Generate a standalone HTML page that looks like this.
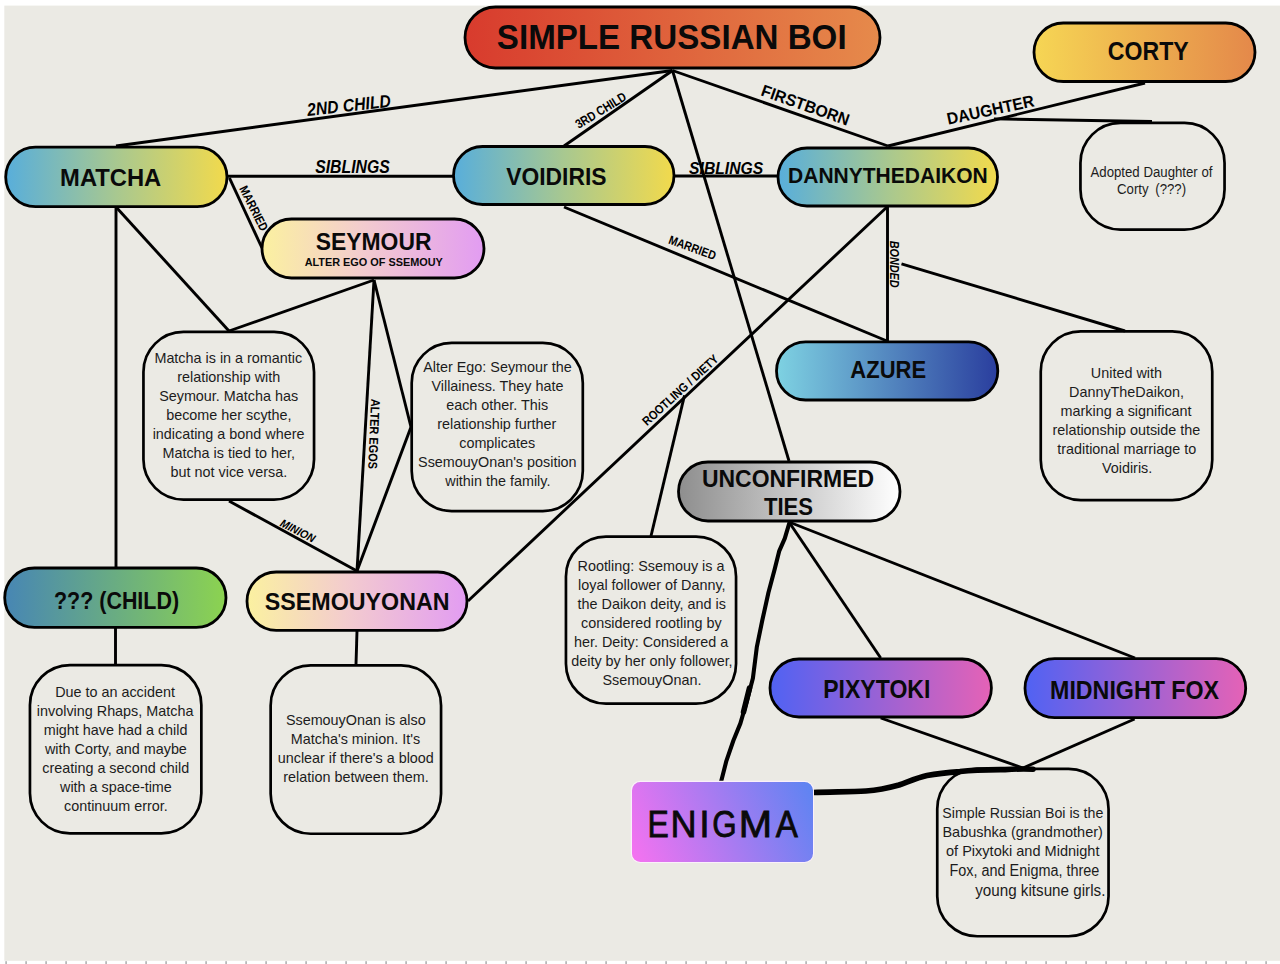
<!DOCTYPE html>
<html><head><meta charset="utf-8"><style>
html,body{margin:0;padding:0;background:#fff;width:1280px;height:964px;overflow:hidden}
svg{display:block}
text{font-family:"Liberation Sans",sans-serif}
</style></head><body>
<svg width="1280" height="964" viewBox="0 0 1280 964">
<defs><linearGradient id="gTitle" x1="0" y1="0" x2="1" y2="0"><stop offset="0" stop-color="#D83B2D"/><stop offset="1" stop-color="#E68A4B"/></linearGradient><linearGradient id="gBY" x1="0" y1="0" x2="1" y2="0"><stop offset="0" stop-color="#58AEDB"/><stop offset="0.5" stop-color="#A8C890"/><stop offset="1" stop-color="#F2DA4C"/></linearGradient><linearGradient id="gCorty" x1="0" y1="0" x2="1" y2="0"><stop offset="0" stop-color="#F6D654"/><stop offset="1" stop-color="#E4884A"/></linearGradient><linearGradient id="gPink" x1="0" y1="0" x2="1" y2="0"><stop offset="0" stop-color="#FBF1A0"/><stop offset="0.45" stop-color="#F3CCCE"/><stop offset="1" stop-color="#E29CF2"/></linearGradient><linearGradient id="gAzure" x1="0" y1="0" x2="1" y2="0"><stop offset="0" stop-color="#7ED2E2"/><stop offset="1" stop-color="#2A3E9E"/></linearGradient><linearGradient id="gGrey" x1="0" y1="0" x2="1" y2="0"><stop offset="0" stop-color="#8E8E8E"/><stop offset="1" stop-color="#FFFFFF"/></linearGradient><linearGradient id="gChild" x1="0" y1="0" x2="1" y2="0"><stop offset="0" stop-color="#4786B4"/><stop offset="1" stop-color="#8CD350"/></linearGradient><linearGradient id="gPurp" x1="0" y1="0" x2="1" y2="0"><stop offset="0" stop-color="#5062F3"/><stop offset="1" stop-color="#E562B6"/></linearGradient><linearGradient id="gEnigma" x1="632" y1="862" x2="813" y2="782" gradientUnits="userSpaceOnUse"><stop offset="0" stop-color="#F672F0"/><stop offset="1" stop-color="#5C84F2"/></linearGradient></defs>
<rect x="4.3" y="5.6" width="1276" height="955.2" fill="#EBEAE4"/>
<rect x="5.3" y="961.2" width="1.6" height="2.8" fill="#AEB2B2"/>
<rect x="25.3" y="961.2" width="1.6" height="2.8" fill="#AEB2B2"/>
<rect x="45.3" y="961.2" width="1.6" height="2.8" fill="#AEB2B2"/>
<rect x="65.3" y="961.2" width="1.6" height="2.8" fill="#AEB2B2"/>
<rect x="85.3" y="961.2" width="1.6" height="2.8" fill="#AEB2B2"/>
<rect x="105.3" y="961.2" width="1.6" height="2.8" fill="#AEB2B2"/>
<rect x="125.3" y="961.2" width="1.6" height="2.8" fill="#AEB2B2"/>
<rect x="145.3" y="961.2" width="1.6" height="2.8" fill="#AEB2B2"/>
<rect x="165.3" y="961.2" width="1.6" height="2.8" fill="#AEB2B2"/>
<rect x="185.3" y="961.2" width="1.6" height="2.8" fill="#AEB2B2"/>
<rect x="205.3" y="961.2" width="1.6" height="2.8" fill="#AEB2B2"/>
<rect x="225.3" y="961.2" width="1.6" height="2.8" fill="#AEB2B2"/>
<rect x="245.3" y="961.2" width="1.6" height="2.8" fill="#AEB2B2"/>
<rect x="265.3" y="961.2" width="1.6" height="2.8" fill="#AEB2B2"/>
<rect x="285.3" y="961.2" width="1.6" height="2.8" fill="#AEB2B2"/>
<rect x="305.3" y="961.2" width="1.6" height="2.8" fill="#AEB2B2"/>
<rect x="325.3" y="961.2" width="1.6" height="2.8" fill="#AEB2B2"/>
<rect x="345.3" y="961.2" width="1.6" height="2.8" fill="#AEB2B2"/>
<rect x="365.3" y="961.2" width="1.6" height="2.8" fill="#AEB2B2"/>
<rect x="385.3" y="961.2" width="1.6" height="2.8" fill="#AEB2B2"/>
<rect x="405.3" y="961.2" width="1.6" height="2.8" fill="#AEB2B2"/>
<rect x="425.3" y="961.2" width="1.6" height="2.8" fill="#AEB2B2"/>
<rect x="445.3" y="961.2" width="1.6" height="2.8" fill="#AEB2B2"/>
<rect x="465.3" y="961.2" width="1.6" height="2.8" fill="#AEB2B2"/>
<rect x="485.3" y="961.2" width="1.6" height="2.8" fill="#AEB2B2"/>
<rect x="505.3" y="961.2" width="1.6" height="2.8" fill="#AEB2B2"/>
<rect x="525.3" y="961.2" width="1.6" height="2.8" fill="#AEB2B2"/>
<rect x="545.3" y="961.2" width="1.6" height="2.8" fill="#AEB2B2"/>
<rect x="565.3" y="961.2" width="1.6" height="2.8" fill="#AEB2B2"/>
<rect x="585.3" y="961.2" width="1.6" height="2.8" fill="#AEB2B2"/>
<rect x="605.3" y="961.2" width="1.6" height="2.8" fill="#AEB2B2"/>
<rect x="625.3" y="961.2" width="1.6" height="2.8" fill="#AEB2B2"/>
<rect x="645.3" y="961.2" width="1.6" height="2.8" fill="#AEB2B2"/>
<rect x="665.3" y="961.2" width="1.6" height="2.8" fill="#AEB2B2"/>
<rect x="685.3" y="961.2" width="1.6" height="2.8" fill="#AEB2B2"/>
<rect x="705.3" y="961.2" width="1.6" height="2.8" fill="#AEB2B2"/>
<rect x="725.3" y="961.2" width="1.6" height="2.8" fill="#AEB2B2"/>
<rect x="745.3" y="961.2" width="1.6" height="2.8" fill="#AEB2B2"/>
<rect x="765.3" y="961.2" width="1.6" height="2.8" fill="#AEB2B2"/>
<rect x="785.3" y="961.2" width="1.6" height="2.8" fill="#AEB2B2"/>
<rect x="805.3" y="961.2" width="1.6" height="2.8" fill="#AEB2B2"/>
<rect x="825.3" y="961.2" width="1.6" height="2.8" fill="#AEB2B2"/>
<rect x="845.3" y="961.2" width="1.6" height="2.8" fill="#AEB2B2"/>
<rect x="865.3" y="961.2" width="1.6" height="2.8" fill="#AEB2B2"/>
<rect x="885.3" y="961.2" width="1.6" height="2.8" fill="#AEB2B2"/>
<rect x="905.3" y="961.2" width="1.6" height="2.8" fill="#AEB2B2"/>
<rect x="925.3" y="961.2" width="1.6" height="2.8" fill="#AEB2B2"/>
<rect x="945.3" y="961.2" width="1.6" height="2.8" fill="#AEB2B2"/>
<rect x="965.3" y="961.2" width="1.6" height="2.8" fill="#AEB2B2"/>
<rect x="985.3" y="961.2" width="1.6" height="2.8" fill="#AEB2B2"/>
<rect x="1005.3" y="961.2" width="1.6" height="2.8" fill="#AEB2B2"/>
<rect x="1025.3" y="961.2" width="1.6" height="2.8" fill="#AEB2B2"/>
<rect x="1045.3" y="961.2" width="1.6" height="2.8" fill="#AEB2B2"/>
<rect x="1065.3" y="961.2" width="1.6" height="2.8" fill="#AEB2B2"/>
<rect x="1085.3" y="961.2" width="1.6" height="2.8" fill="#AEB2B2"/>
<rect x="1105.3" y="961.2" width="1.6" height="2.8" fill="#AEB2B2"/>
<rect x="1125.3" y="961.2" width="1.6" height="2.8" fill="#AEB2B2"/>
<rect x="1145.3" y="961.2" width="1.6" height="2.8" fill="#AEB2B2"/>
<rect x="1165.3" y="961.2" width="1.6" height="2.8" fill="#AEB2B2"/>
<rect x="1185.3" y="961.2" width="1.6" height="2.8" fill="#AEB2B2"/>
<rect x="1205.3" y="961.2" width="1.6" height="2.8" fill="#AEB2B2"/>
<rect x="1225.3" y="961.2" width="1.6" height="2.8" fill="#AEB2B2"/>
<rect x="1245.3" y="961.2" width="1.6" height="2.8" fill="#AEB2B2"/>
<rect x="1265.3" y="961.2" width="1.6" height="2.8" fill="#AEB2B2"/>
<line x1="672.5" y1="70.5" x2="116" y2="146" stroke="#000" stroke-width="2.9"/>
<line x1="672.5" y1="70.5" x2="564" y2="146" stroke="#000" stroke-width="2.9"/>
<line x1="672.5" y1="70.5" x2="888" y2="146" stroke="#000" stroke-width="2.9"/>
<line x1="672.5" y1="70.5" x2="789" y2="461" stroke="#000" stroke-width="2.9"/>
<line x1="888" y1="146" x2="1145" y2="83" stroke="#000" stroke-width="2.9"/>
<line x1="994" y1="118.9" x2="1152" y2="121.5" stroke="#000" stroke-width="2.9"/>
<line x1="228" y1="176.2" x2="453" y2="176.2" stroke="#000" stroke-width="2.9"/>
<line x1="675" y1="176" x2="777" y2="176" stroke="#000" stroke-width="2.9"/>
<line x1="229.4" y1="177.9" x2="262" y2="248" stroke="#000" stroke-width="2.9"/>
<line x1="116" y1="207" x2="116" y2="567" stroke="#000" stroke-width="2.9"/>
<line x1="116" y1="207" x2="229" y2="331" stroke="#000" stroke-width="2.9"/>
<line x1="374" y1="280" x2="229" y2="331" stroke="#000" stroke-width="2.9"/>
<line x1="374" y1="280" x2="357" y2="571" stroke="#000" stroke-width="2.9"/>
<line x1="374" y1="280" x2="411" y2="427" stroke="#000" stroke-width="2.9"/>
<line x1="411" y1="427" x2="357" y2="571" stroke="#000" stroke-width="2.9"/>
<line x1="229" y1="501" x2="357" y2="571" stroke="#000" stroke-width="2.9"/>
<line x1="357" y1="631" x2="356" y2="664.5" stroke="#000" stroke-width="2.9"/>
<line x1="115.5" y1="628" x2="115.5" y2="664.5" stroke="#000" stroke-width="2.9"/>
<line x1="564" y1="207" x2="887" y2="341" stroke="#000" stroke-width="2.9"/>
<line x1="887.5" y1="207" x2="887.5" y2="341" stroke="#000" stroke-width="2.9"/>
<line x1="887" y1="207" x2="468" y2="601" stroke="#000" stroke-width="2.9"/>
<line x1="901.5" y1="263.8" x2="1125" y2="331" stroke="#000" stroke-width="2.9"/>
<line x1="684.5" y1="395.4" x2="651" y2="536" stroke="#000" stroke-width="2.9"/>
<line x1="789" y1="522" x2="880.7" y2="658" stroke="#000" stroke-width="2.9"/>
<line x1="789" y1="522" x2="1135" y2="658" stroke="#000" stroke-width="2.9"/>
<line x1="880.7" y1="718" x2="1023" y2="768" stroke="#000" stroke-width="2.9"/>
<line x1="1134.6" y1="719" x2="1023" y2="768" stroke="#000" stroke-width="2.9"/>
<path d="M789.4,522.8 L784.8,538.3 L779.3,550.8 L774.6,569.4 L768.4,592.8 L762.2,620.8 L756.8,647.2 L752.9,678.3 L746.7,701.7 L740.4,723.4 L733.4,740.5 L726.4,760.8 L721,782" fill="none" stroke="#000" stroke-width="4.1" stroke-linecap="round" stroke-linejoin="round"/>
<path d="M749.5,688 L743.5,712" fill="none" stroke="#000" stroke-width="5.5" stroke-linecap="round"/>
<path d="M813,792.5 C830,791.8 850,791.8 866,791 C880,790 890,787.5 899,785 C910,781 918,777.5 927,775.5 C940,773 950,772.3 960,771.6 C975,769.5 990,769.5 1005,769.6 C1015,769 1025,768.8 1033,769.2" fill="none" stroke="#000" stroke-width="5.6" stroke-linecap="round" stroke-linejoin="round"/>
<rect x="465.00" y="7.00" width="415.00" height="61.00" rx="30.50" fill="url(#gTitle)" stroke="#000" stroke-width="2.8"/>
<rect x="5.70" y="147.20" width="221.30" height="59.50" rx="29.75" fill="url(#gBY)" stroke="#000" stroke-width="2.8"/>
<rect x="453.50" y="146.50" width="220.50" height="58.00" rx="29.00" fill="url(#gBY)" stroke="#000" stroke-width="2.8"/>
<rect x="778.00" y="148.00" width="219.50" height="58.00" rx="29.00" fill="url(#gBY)" stroke="#000" stroke-width="2.8"/>
<rect x="1034.00" y="23.00" width="221.00" height="58.50" rx="29.25" fill="url(#gCorty)" stroke="#000" stroke-width="2.8"/>
<rect x="262.00" y="219.00" width="222.00" height="59.00" rx="29.50" fill="url(#gPink)" stroke="#000" stroke-width="2.8"/>
<rect x="776.50" y="341.80" width="221.30" height="58.20" rx="29.10" fill="url(#gAzure)" stroke="#000" stroke-width="2.8"/>
<rect x="678.50" y="462.00" width="221.50" height="59.00" rx="29.50" fill="url(#gGrey)" stroke="#000" stroke-width="2.8"/>
<rect x="4.70" y="568.00" width="221.30" height="59.40" rx="29.70" fill="url(#gChild)" stroke="#000" stroke-width="2.8"/>
<rect x="247.00" y="572.00" width="220.00" height="58.40" rx="29.20" fill="url(#gPink)" stroke="#000" stroke-width="2.8"/>
<rect x="770.00" y="659.00" width="221.40" height="58.00" rx="29.00" fill="url(#gPurp)" stroke="#000" stroke-width="2.8"/>
<rect x="1025.00" y="658.60" width="220.70" height="59.10" rx="29.55" fill="url(#gPurp)" stroke="#000" stroke-width="2.8"/>
<text x="496.84" y="48.60" font-size="35.90" font-weight="bold" font-style="normal" textLength="349.77" lengthAdjust="spacingAndGlyphs" fill="#0A0A0A" >SIMPLE RUSSIAN BOI</text>
<text x="60.11" y="185.50" font-size="24.56" font-weight="bold" font-style="normal" textLength="101.12" lengthAdjust="spacingAndGlyphs" fill="#0A0A0A" >MATCHA</text>
<text x="506.24" y="184.80" font-size="24.42" font-weight="bold" font-style="normal" textLength="100.24" lengthAdjust="spacingAndGlyphs" fill="#0A0A0A" >VOIDIRIS</text>
<text x="788.09" y="183.20" font-size="22.53" font-weight="bold" font-style="normal" textLength="199.62" lengthAdjust="spacingAndGlyphs" fill="#0A0A0A" >DANNYTHEDAIKON</text>
<text x="1107.80" y="60.00" font-size="25.00" font-weight="bold" font-style="normal" textLength="80.87" lengthAdjust="spacingAndGlyphs" fill="#0A0A0A" >CORTY</text>
<text x="315.74" y="250.20" font-size="24.71" font-weight="bold" font-style="normal" textLength="115.75" lengthAdjust="spacingAndGlyphs" fill="#0A0A0A" >SEYMOUR</text>
<text x="304.63" y="266.00" font-size="11.05" font-weight="bold" font-style="normal" textLength="138.24" lengthAdjust="spacingAndGlyphs" fill="#0A0A0A" >ALTER EGO OF SSEMOUY</text>
<text x="850.35" y="377.70" font-size="24.42" font-weight="bold" font-style="normal" textLength="75.71" lengthAdjust="spacingAndGlyphs" fill="#0A0A0A" >AZURE</text>
<text x="701.92" y="486.90" font-size="23.84" font-weight="bold" font-style="normal" textLength="172.15" lengthAdjust="spacingAndGlyphs" fill="#0A0A0A" >UNCONFIRMED</text>
<text x="763.96" y="514.70" font-size="24.13" font-weight="bold" font-style="normal" textLength="49.10" lengthAdjust="spacingAndGlyphs" fill="#0A0A0A" >TIES</text>
<text x="264.73" y="610.40" font-size="24.56" font-weight="bold" font-style="normal" textLength="184.84" lengthAdjust="spacingAndGlyphs" fill="#0A0A0A" >SSEMOUYONAN</text>
<text x="54.01" y="609.00" font-size="24.27" font-weight="bold" font-style="normal" textLength="125.05" lengthAdjust="spacingAndGlyphs" fill="#0A0A0A" >??? (CHILD)</text>
<text x="823.26" y="698.40" font-size="24.85" font-weight="bold" font-style="normal" textLength="107.07" lengthAdjust="spacingAndGlyphs" fill="#0A0A0A" >PIXYTOKI</text>
<text x="1050.04" y="698.60" font-size="25.15" font-weight="bold" font-style="normal" textLength="169.07" lengthAdjust="spacingAndGlyphs" fill="#0A0A0A" >MIDNIGHT FOX</text>
<rect x="631.4" y="781.4" width="182" height="81" rx="9" fill="none" stroke="#FBF0FA" stroke-width="1.2"/>
<rect x="632" y="782" width="181" height="80" rx="8.5" fill="url(#gEnigma)"/>
<text x="647.48" y="836.80" font-size="37.65" font-weight="normal" font-style="normal" textLength="21.29" lengthAdjust="spacingAndGlyphs" fill="#0A0A0A" stroke="#0A0A0A" stroke-width="0.8">E</text>
<text x="670.54" y="836.80" font-size="37.65" font-weight="normal" font-style="normal" textLength="26.10" lengthAdjust="spacingAndGlyphs" fill="#0A0A0A" stroke="#0A0A0A" stroke-width="0.8">N</text>
<text x="712.23" y="836.80" font-size="37.65" font-weight="normal" font-style="normal" textLength="24.42" lengthAdjust="spacingAndGlyphs" fill="#0A0A0A" stroke="#0A0A0A" stroke-width="0.8">G</text>
<text x="738.67" y="836.80" font-size="37.65" font-weight="normal" font-style="normal" textLength="33.31" lengthAdjust="spacingAndGlyphs" fill="#0A0A0A" stroke="#0A0A0A" stroke-width="0.8">M</text>
<text x="775.63" y="836.80" font-size="37.65" font-weight="normal" font-style="normal" textLength="22.13" lengthAdjust="spacingAndGlyphs" fill="#0A0A0A" stroke="#0A0A0A" stroke-width="0.8">A</text>
<text stroke="#0A0A0A" stroke-width="0.8" x="699.17" y="836.80" font-size="37.64534883720927" textLength="10.46" lengthAdjust="spacingAndGlyphs" fill="#0A0A0A">I</text>
<rect x="1080.45" y="122.95" width="144.10" height="106.60" rx="40" fill="none" stroke="#000" stroke-width="2.7"/>
<rect x="143.45" y="331.95" width="170.60" height="167.60" rx="40" fill="none" stroke="#000" stroke-width="2.7"/>
<rect x="411.70" y="342.95" width="171.10" height="168.10" rx="40" fill="none" stroke="#000" stroke-width="2.7"/>
<rect x="1040.75" y="331.45" width="171.50" height="168.60" rx="40" fill="none" stroke="#000" stroke-width="2.7"/>
<rect x="565.95" y="536.55" width="170.10" height="167.10" rx="40" fill="none" stroke="#000" stroke-width="2.7"/>
<rect x="29.95" y="665.05" width="171.40" height="168.30" rx="40" fill="none" stroke="#000" stroke-width="2.7"/>
<rect x="270.65" y="665.45" width="170.40" height="168.30" rx="40" fill="none" stroke="#000" stroke-width="2.7"/>
<rect x="937.25" y="768.95" width="171.30" height="167.30" rx="40" fill="none" stroke="#000" stroke-width="2.7"/>
<text x="1090.47" y="176.90" font-size="13.8" textLength="122.01" lengthAdjust="spacingAndGlyphs" fill="#1C1C1C">Adopted Daughter of</text>
<text x="1117.04" y="193.90" font-size="13.8" textLength="69.06" lengthAdjust="spacingAndGlyphs" fill="#1C1C1C">Corty (???)</text>
<text x="154.42" y="363.10" font-size="15" textLength="147.75" lengthAdjust="spacingAndGlyphs" fill="#1C1C1C">Matcha is in a romantic</text>
<text x="177.18" y="382.10" font-size="15" textLength="103.04" lengthAdjust="spacingAndGlyphs" fill="#1C1C1C">relationship with</text>
<text x="159.14" y="401.10" font-size="15" textLength="138.98" lengthAdjust="spacingAndGlyphs" fill="#1C1C1C">Seymour. Matcha has</text>
<text x="166.18" y="420.10" font-size="15" textLength="125.40" lengthAdjust="spacingAndGlyphs" fill="#1C1C1C">become her scythe,</text>
<text x="152.64" y="439.10" font-size="15" textLength="151.79" lengthAdjust="spacingAndGlyphs" fill="#1C1C1C">indicating a bond where</text>
<text x="162.46" y="458.10" font-size="15" textLength="132.59" lengthAdjust="spacingAndGlyphs" fill="#1C1C1C">Matcha is tied to her,</text>
<text x="170.58" y="477.10" font-size="15" textLength="116.62" lengthAdjust="spacingAndGlyphs" fill="#1C1C1C">but not vice versa.</text>
<text x="423.22" y="372.10" font-size="15" textLength="148.56" lengthAdjust="spacingAndGlyphs" fill="#1C1C1C">Alter Ego: Seymour the</text>
<text x="431.44" y="391.15" font-size="15" textLength="132.07" lengthAdjust="spacingAndGlyphs" fill="#1C1C1C">Villainess. They hate</text>
<text x="446.16" y="410.20" font-size="15" textLength="101.99" lengthAdjust="spacingAndGlyphs" fill="#1C1C1C">each other. This</text>
<text x="437.34" y="429.25" font-size="15" textLength="119.02" lengthAdjust="spacingAndGlyphs" fill="#1C1C1C">relationship further</text>
<text x="459.22" y="448.30" font-size="15" textLength="75.87" lengthAdjust="spacingAndGlyphs" fill="#1C1C1C">complicates</text>
<text x="418.09" y="467.35" font-size="15" textLength="158.51" lengthAdjust="spacingAndGlyphs" fill="#1C1C1C">SsemouyOnan's position</text>
<text x="445.28" y="486.40" font-size="15" textLength="105.15" lengthAdjust="spacingAndGlyphs" fill="#1C1C1C">within the family.</text>
<text x="1090.87" y="377.90" font-size="15" textLength="71.09" lengthAdjust="spacingAndGlyphs" fill="#1C1C1C">United with</text>
<text x="1069.04" y="397.00" font-size="15" textLength="115.02" lengthAdjust="spacingAndGlyphs" fill="#1C1C1C">DannyTheDaikon,</text>
<text x="1060.58" y="416.10" font-size="15" textLength="130.99" lengthAdjust="spacingAndGlyphs" fill="#1C1C1C">marking a significant</text>
<text x="1052.44" y="435.20" font-size="15" textLength="147.79" lengthAdjust="spacingAndGlyphs" fill="#1C1C1C">relationship outside the</text>
<text x="1057.21" y="454.30" font-size="15" textLength="138.98" lengthAdjust="spacingAndGlyphs" fill="#1C1C1C">traditional marriage to</text>
<text x="1101.96" y="473.40" font-size="15" textLength="50.32" lengthAdjust="spacingAndGlyphs" fill="#1C1C1C">Voidiris.</text>
<text x="577.53" y="570.90" font-size="15" textLength="146.96" lengthAdjust="spacingAndGlyphs" fill="#1C1C1C">Rootling: Ssemouy is a</text>
<text x="578.02" y="589.88" font-size="15" textLength="147.50" lengthAdjust="spacingAndGlyphs" fill="#1C1C1C">loyal follower of Danny,</text>
<text x="577.59" y="608.86" font-size="15" textLength="148.31" lengthAdjust="spacingAndGlyphs" fill="#1C1C1C">the Daikon deity, and is</text>
<text x="581.01" y="627.84" font-size="15" textLength="140.59" lengthAdjust="spacingAndGlyphs" fill="#1C1C1C">considered rootling by</text>
<text x="574.02" y="646.82" font-size="15" textLength="154.16" lengthAdjust="spacingAndGlyphs" fill="#1C1C1C">her. Deity: Considered a</text>
<text x="571.27" y="665.80" font-size="15" textLength="161.35" lengthAdjust="spacingAndGlyphs" fill="#1C1C1C">deity by her only follower,</text>
<text x="602.40" y="684.78" font-size="15" textLength="99.05" lengthAdjust="spacingAndGlyphs" fill="#1C1C1C">SsemouyOnan.</text>
<text x="55.15" y="697.30" font-size="15" textLength="119.83" lengthAdjust="spacingAndGlyphs" fill="#1C1C1C">Due to an accident</text>
<text x="36.85" y="716.33" font-size="15" textLength="156.56" lengthAdjust="spacingAndGlyphs" fill="#1C1C1C">involving Rhaps, Matcha</text>
<text x="43.69" y="735.36" font-size="15" textLength="143.79" lengthAdjust="spacingAndGlyphs" fill="#1C1C1C">might have had a child</text>
<text x="44.98" y="754.39" font-size="15" textLength="141.90" lengthAdjust="spacingAndGlyphs" fill="#1C1C1C">with Corty, and maybe</text>
<text x="42.27" y="773.42" font-size="15" textLength="146.98" lengthAdjust="spacingAndGlyphs" fill="#1C1C1C">creating a second child</text>
<text x="60.02" y="792.45" font-size="15" textLength="111.81" lengthAdjust="spacingAndGlyphs" fill="#1C1C1C">with a space-time</text>
<text x="64.03" y="811.48" font-size="15" textLength="103.83" lengthAdjust="spacingAndGlyphs" fill="#1C1C1C">continuum error.</text>
<text x="285.88" y="725.10" font-size="15" textLength="139.78" lengthAdjust="spacingAndGlyphs" fill="#1C1C1C">SsemouyOnan is also</text>
<text x="290.83" y="744.20" font-size="15" textLength="129.27" lengthAdjust="spacingAndGlyphs" fill="#1C1C1C">Matcha's minion. It's</text>
<text x="277.73" y="763.30" font-size="15" textLength="156.12" lengthAdjust="spacingAndGlyphs" fill="#1C1C1C">unclear if there's a blood</text>
<text x="283.29" y="782.40" font-size="15" textLength="145.38" lengthAdjust="spacingAndGlyphs" fill="#1C1C1C">relation between them.</text>
<text x="942.35" y="817.90" font-size="15.00" font-weight="normal" font-style="normal" textLength="160.98" lengthAdjust="spacingAndGlyphs" fill="#1C1C1C" >Simple Russian Boi is the</text>
<text x="942.41" y="836.50" font-size="15.00" font-weight="normal" font-style="normal" textLength="160.48" lengthAdjust="spacingAndGlyphs" fill="#1C1C1C" >Babushka (grandmother)</text>
<text x="945.99" y="855.80" font-size="15.00" font-weight="normal" font-style="normal" textLength="153.51" lengthAdjust="spacingAndGlyphs" fill="#1C1C1C" >of Pixytoki and Midnight</text>
<text x="949.42" y="875.70" font-size="15.80" font-weight="normal" font-style="normal" textLength="149.93" lengthAdjust="spacingAndGlyphs" fill="#1C1C1C" >Fox, and Enigma, three</text>
<text x="975.15" y="896.30" font-size="16.50" font-weight="normal" font-style="normal" textLength="130.23" lengthAdjust="spacingAndGlyphs" fill="#1C1C1C" >young kitsune girls.</text>
<text x="307.55" y="111.40" font-size="17.73" font-weight="bold" font-style="italic" textLength="84.00" lengthAdjust="spacingAndGlyphs" transform="rotate(-6.5 349.2 111.4)">2ND CHILD</text>
<text x="574.50" y="114.20" font-size="12.94" font-weight="bold" font-style="normal" textLength="57.20" lengthAdjust="spacingAndGlyphs" transform="rotate(-31.5 603.0 114.2)">3RD CHILD</text>
<text x="757.54" y="110.60" font-size="16.57" font-weight="bold" font-style="normal" textLength="92.12" lengthAdjust="spacingAndGlyphs" transform="rotate(19.3 803.6 110.6)">FIRSTBORN</text>
<text x="947.20" y="115.40" font-size="16.72" font-weight="bold" font-style="normal" textLength="88.89" lengthAdjust="spacingAndGlyphs" transform="rotate(-12.2 992.0 115.4)">DAUGHTER</text>
<text x="315.21" y="173.40" font-size="17.88" font-weight="bold" font-style="italic" textLength="74.54" lengthAdjust="spacingAndGlyphs" transform="rotate(0 352.5 173.4)">SIBLINGS</text>
<text x="689.11" y="173.80" font-size="17.30" font-weight="bold" font-style="italic" textLength="74.14" lengthAdjust="spacingAndGlyphs" transform="rotate(0 726.2 173.8)">SIBLINGS</text>
<text x="225.55" y="210.30" font-size="12.50" font-weight="bold" font-style="normal" textLength="48.64" lengthAdjust="spacingAndGlyphs" transform="rotate(63.5 250.0 210.3)">MARRIED</text>
<text x="666.14" y="251.70" font-size="12.35" font-weight="bold" font-style="normal" textLength="49.46" lengthAdjust="spacingAndGlyphs" transform="rotate(20.0 691.0 251.7)">MARRIED</text>
<text x="334.53" y="433.70" font-size="12.65" font-weight="bold" font-style="normal" textLength="70.30" lengthAdjust="spacingAndGlyphs" transform="rotate(92.5 369.6 433.7)">ALTER EGOS</text>
<text x="867.01" y="264.10" font-size="12.06" font-weight="bold" font-style="italic" textLength="46.90" lengthAdjust="spacingAndGlyphs" transform="rotate(90 890.4 264.1)">BONDED</text>
<text x="277.26" y="534.40" font-size="11.48" font-weight="bold" font-style="italic" textLength="37.51" lengthAdjust="spacingAndGlyphs" transform="rotate(27.0 296.2 534.4)">MINION</text>
<text x="634.17" y="393.00" font-size="12.50" font-weight="bold" font-style="normal" textLength="98.10" lengthAdjust="spacingAndGlyphs" transform="rotate(-42.5 683.5 393.0)">ROOTLING / DIETY</text>
</svg>
</body></html>
